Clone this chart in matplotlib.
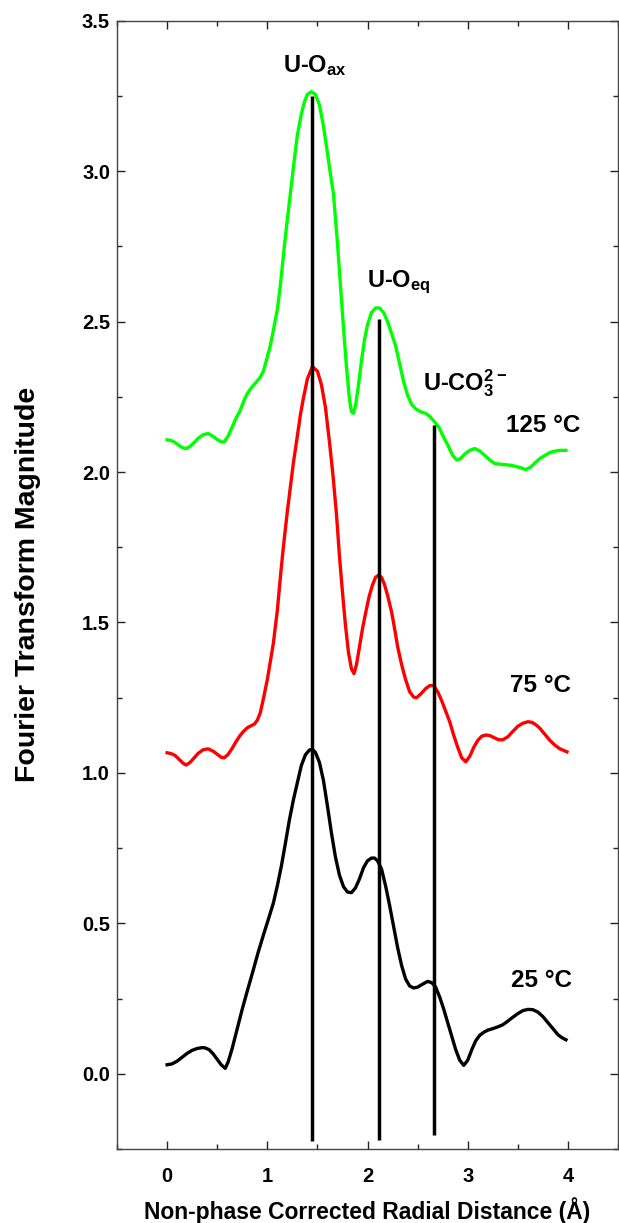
import numpy as np
import matplotlib
matplotlib.use('Agg')
import matplotlib.pyplot as plt
from matplotlib.ticker import MultipleLocator, FormatStrFormatter

plt.rcParams['font.family'] = ['Liberation Sans', 'DejaVu Sans']
plt.rcParams['font.weight'] = 'bold'
plt.rcParams['mathtext.fontset'] = 'custom'
plt.rcParams['mathtext.rm'] = 'Liberation Sans:bold'
plt.rcParams['mathtext.bf'] = 'Liberation Sans:bold'
plt.rcParams['mathtext.default'] = 'bf'

# 25 C (black)
r_25 = [0.00, 0.05, 0.10, 0.15, 0.20, 0.25, 0.30, 0.35, 0.38, 0.42, 0.46, 0.50,
        0.54, 0.58, 0.61, 0.65, 0.70, 0.75, 0.80, 0.86, 0.91, 0.96, 1.01, 1.06,
        1.10, 1.14, 1.18, 1.22, 1.26, 1.30, 1.34, 1.38, 1.42, 1.45, 1.48, 1.52,
        1.56, 1.60, 1.64, 1.68, 1.72, 1.76, 1.80, 1.84, 1.88, 1.92, 1.96, 2.00,
        2.04, 2.07, 2.10, 2.14, 2.18, 2.22, 2.26, 2.30, 2.34, 2.38, 2.42, 2.46,
        2.50, 2.55, 2.60, 2.64, 2.68, 2.72, 2.76, 2.80, 2.84, 2.88, 2.92, 2.96,
        3.00, 3.04, 3.08, 3.12, 3.16, 3.20, 3.25, 3.30, 3.35, 3.40, 3.45, 3.50,
        3.55, 3.60, 3.65, 3.70, 3.75, 3.80, 3.85, 3.90, 3.94, 3.98]
ft_25 = [0.030, 0.033, 0.042, 0.055, 0.068, 0.078, 0.084, 0.087, 0.086, 0.080, 0.066, 0.048,
         0.030, 0.018, 0.040, 0.085, 0.150, 0.215, 0.275, 0.345, 0.405, 0.460, 0.513, 0.567,
         0.625, 0.690, 0.765, 0.843, 0.910, 0.968, 1.025, 1.060, 1.076, 1.078, 1.068, 1.035,
         0.975, 0.890, 0.800, 0.720, 0.660, 0.622, 0.604, 0.602, 0.618, 0.648, 0.685, 0.708,
         0.717, 0.717, 0.708, 0.680, 0.625, 0.560, 0.490, 0.420, 0.360, 0.315, 0.292, 0.285,
         0.288, 0.298, 0.307, 0.303, 0.288, 0.255, 0.215, 0.170, 0.125, 0.080, 0.045, 0.028,
         0.045, 0.080, 0.110, 0.128, 0.138, 0.145, 0.150, 0.156, 0.163, 0.175, 0.188, 0.200,
         0.210, 0.214, 0.213, 0.205, 0.190, 0.170, 0.150, 0.130, 0.120, 0.113]

# 75 C (red)
r_75 = [0.00, 0.04, 0.08, 0.12, 0.16, 0.19, 0.23, 0.27, 0.31, 0.36, 0.41, 0.46,
        0.50, 0.54, 0.57, 0.61, 0.65, 0.69, 0.73, 0.76, 0.80, 0.84, 0.87, 0.90,
        0.93, 0.96, 1.00, 1.03, 1.06, 1.10, 1.13, 1.16, 1.20, 1.23, 1.26, 1.30,
        1.33, 1.36, 1.40, 1.45, 1.50, 1.54, 1.58, 1.62, 1.655, 1.69, 1.72, 1.75,
        1.78, 1.81, 1.84, 1.865, 1.89, 1.92, 1.95, 1.98, 2.015, 2.05, 2.08, 2.11,
        2.14, 2.17, 2.20, 2.24, 2.27, 2.30, 2.34, 2.38, 2.42, 2.46, 2.49, 2.53,
        2.58, 2.62, 2.66, 2.70, 2.74, 2.78, 2.82, 2.86, 2.90, 2.94, 2.98, 3.02,
        3.06, 3.10, 3.14, 3.18, 3.22, 3.27, 3.31, 3.35, 3.40, 3.45, 3.50, 3.55,
        3.60, 3.64, 3.68, 3.72, 3.77, 3.82, 3.87, 3.92, 3.99]
ft_75 = [1.067, 1.064, 1.058, 1.045, 1.032, 1.026, 1.035, 1.050, 1.065, 1.077, 1.080, 1.072,
         1.062, 1.052, 1.050, 1.062, 1.082, 1.105, 1.125, 1.137, 1.150, 1.157, 1.162, 1.175,
         1.200, 1.245, 1.310, 1.370, 1.430, 1.540, 1.650, 1.750, 1.870, 1.950, 2.030, 2.120,
         2.190, 2.245, 2.310, 2.350, 2.335, 2.290, 2.215, 2.100, 1.990, 1.860, 1.720, 1.600,
         1.490, 1.400, 1.345, 1.330, 1.360, 1.420, 1.480, 1.530, 1.585, 1.625, 1.650, 1.657,
         1.650, 1.625, 1.590, 1.535, 1.480, 1.420, 1.360, 1.310, 1.270, 1.252, 1.250, 1.262,
         1.280, 1.290, 1.290, 1.270, 1.240, 1.205, 1.170, 1.125, 1.085, 1.050, 1.037, 1.055,
         1.085, 1.108, 1.122, 1.126, 1.124, 1.116, 1.110, 1.110, 1.120, 1.138, 1.155, 1.165,
         1.170, 1.168, 1.160, 1.148, 1.128, 1.108, 1.092, 1.080, 1.070]

# 125 C (green)
r_125 = [0.00, 0.04, 0.08, 0.12, 0.16, 0.19, 0.23, 0.27, 0.31, 0.36, 0.41, 0.46,
         0.50, 0.54, 0.57, 0.61, 0.65, 0.69, 0.73, 0.77, 0.80, 0.84, 0.88, 0.93,
         0.96, 0.99, 1.03, 1.06, 1.10, 1.13, 1.17, 1.20, 1.23, 1.27, 1.30, 1.34,
         1.37, 1.40, 1.44, 1.48, 1.52, 1.56, 1.60, 1.63, 1.66, 1.70, 1.73, 1.76,
         1.79, 1.82, 1.84, 1.86, 1.88, 1.91, 1.94, 1.97, 2.00, 2.04, 2.08, 2.12,
         2.16, 2.20, 2.24, 2.28, 2.32, 2.36, 2.40, 2.44, 2.48, 2.53, 2.58, 2.62,
         2.66, 2.71, 2.76, 2.80, 2.85, 2.89, 2.93, 2.97, 3.02, 3.07, 3.12, 3.17,
         3.22, 3.27, 3.35, 3.44, 3.52, 3.58, 3.63, 3.67, 3.72, 3.77, 3.82, 3.88,
         3.93, 3.98]
ft_125 = [2.107, 2.105, 2.098, 2.088, 2.080, 2.078, 2.085, 2.098, 2.112, 2.124, 2.128, 2.118,
          2.108, 2.100, 2.100, 2.120, 2.150, 2.180, 2.205, 2.240, 2.260, 2.280, 2.295, 2.315,
          2.335, 2.370, 2.420, 2.470, 2.540, 2.620, 2.750, 2.840, 2.925, 3.040, 3.120, 3.190,
          3.230, 3.255, 3.264, 3.255, 3.220, 3.150, 3.060, 2.990, 2.925, 2.760, 2.620, 2.480,
          2.350, 2.240, 2.200, 2.195, 2.220, 2.290, 2.370, 2.440, 2.490, 2.530, 2.545, 2.545,
          2.530, 2.500, 2.460, 2.420, 2.360, 2.300, 2.255, 2.225, 2.210, 2.200, 2.195, 2.185,
          2.170, 2.150, 2.115, 2.090, 2.055, 2.040, 2.045, 2.060, 2.072, 2.078, 2.070, 2.055,
          2.040, 2.028, 2.025, 2.022, 2.015, 2.008, 2.017, 2.030, 2.045, 2.055, 2.065, 2.070,
          2.072, 2.072]

# marker lines
line_x = [1.445, 2.115, 2.66]
line_top = [3.25, 2.51, 2.155]
line_bot = [-0.225, -0.22, -0.205]

fig = plt.figure(figsize=(6.19, 12.23), dpi=100)
ax = fig.add_axes([0.189, 0.0605, 0.8095, 0.9226])

ax.plot(r_25, ft_25, color='black', lw=2.4, solid_joinstyle='round')
ax.plot(r_75, ft_75, color='#ff0000', lw=2.4, solid_joinstyle='round')
ax.plot(r_125, ft_125, color='#00ff00', lw=2.4, solid_joinstyle='round')
ax.vlines(line_x, line_bot, line_top, color='black', lw=2.5)

ax.text(1.154, 3.33, r'U-O$_{ax}$', fontsize=17, fontweight='bold')
ax.text(1.99, 2.616, r'U-O$_{eq}$', fontsize=17, fontweight='bold')
ax.text(2.55, 2.27, r'U-CO$_{3}^{2-}$', fontsize=17, fontweight='bold')
ax.text(3.38, 2.132, '125 \u00b0C', fontsize=17.5, fontweight='bold')
ax.text(3.42, 1.27, '75 \u00b0C', fontsize=17.5, fontweight='bold')
ax.text(3.43, 0.29, '25 \u00b0C', fontsize=17.5, fontweight='bold')

ax.set_xlim(-0.5, 4.5)
ax.set_ylim(-0.25, 3.5)
ax.set_xticks([0, 1, 2, 3, 4])
ax.xaxis.set_minor_locator(MultipleLocator(0.5))
ax.yaxis.set_major_locator(MultipleLocator(0.5))
ax.yaxis.set_minor_locator(MultipleLocator(0.25))
ax.yaxis.set_major_formatter(FormatStrFormatter('%.1f'))
ax.xaxis.set_major_formatter(FormatStrFormatter('%d'))
ax.tick_params(which='both', direction='in', top=True, right=True, color='#222222', width=1.0)
ax.tick_params(which='major', length=6)
ax.tick_params(which='minor', length=3.5)
ax.tick_params(axis='x', which='major', pad=13, labelsize=14.5)
ax.tick_params(axis='y', which='major', pad=5, labelsize=14.5)
for s in ax.spines.values():
    s.set_color('#444444')
    s.set_linewidth(1.0)

ax.set_ylabel('Fourier Transform Magnitude', fontsize=20.5, fontweight='bold')
ax.yaxis.set_label_coords(-0.152, 0.5)
ax.set_xlabel('Non-phase Corrected Radial Distance (\u00c5)', fontsize=16.5, fontweight='bold')
ax.xaxis.set_label_coords(0.5, -0.043)

fig.savefig('out.png', dpi=100)
